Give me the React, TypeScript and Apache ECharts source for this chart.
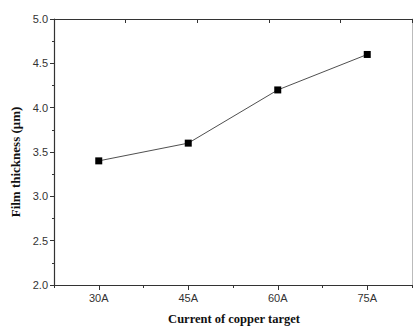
import React, { useEffect, useRef } from "react";
import * as echarts from "echarts";

const categories = ["30A", "45A", "60A", "75A"];
const thickness = [3.4, 3.6, 4.2, 4.6];
const yMin = 2.0;
const yMax = 5.0;
const yInterval = 0.5;
const xTitle = "Current of copper target";
const yTitle = "Film thickness (μm)";

export default function App() {
  const ref = useRef<HTMLDivElement>(null);
  useEffect(() => {
    if (!ref.current) return;
    const chart = echarts.init(ref.current, undefined, { renderer: "svg" });
    const tickLabel = { fontFamily: "Liberation Sans, Arial, sans-serif", fontSize: 11, color: "#333" };
    const serif = "Liberation Serif, Times New Roman, serif";
    chart.setOption({
      animation: false,
      backgroundColor: "#fff",
      grid: { left: 54, right: 1, top: 19, bottom: 42, outerBoundsMode: "none", containLabel: false },
      graphic: [
        {
          type: "text",
          x: 15,
          y: 162,
          rotation: Math.PI / 2,
          style: {
            text: yTitle,
            fontFamily: serif,
            fontSize: 13,
            fontWeight: "bold",
            fill: "#111",
            align: "center",
            verticalAlign: "middle",
          },
        },
        {
          type: "text",
          x: 234,
          y: 319,
          style: {
            text: xTitle,
            fontFamily: serif,
            fontSize: 12.5,
            fontWeight: "bold",
            fill: "#111",
            align: "center",
            verticalAlign: "middle",
          },
        },
      ],
      xAxis: [
        {
          type: "category",
          data: categories,
          position: "bottom",
          boundaryGap: true,
          axisLine: { show: true, lineStyle: { color: "#333", width: 1.2 } },
          axisTick: { show: true, alignWithLabel: true, length: 5, lineStyle: { color: "#333" } },
          axisLabel: { ...tickLabel, margin: 7 },
          splitLine: { show: false },
        },
        {
          type: "category",
          data: categories,
          position: "bottom",
          boundaryGap: true,
          axisLine: { show: false },
          axisTick: { show: true, alignWithLabel: false, length: 3, lineStyle: { color: "#333" } },
          axisLabel: { show: false },
          splitLine: { show: false },
        },
        {
          type: "value",
          position: "top",
          min: 0,
          max: 5,
          interval: 1,
          axisLine: { show: true, lineStyle: { color: "#333", width: 1.2 } },
          axisTick: { show: true, inside: true, length: 4, lineStyle: { color: "#333" } },
          axisLabel: { show: false },
          splitLine: { show: false },
        },
      ],
      yAxis: [
        {
          type: "value",
          min: yMin,
          max: yMax,
          interval: yInterval,
          position: "left",
          axisLine: { show: true, lineStyle: { color: "#333", width: 1.2 } },
          axisTick: { show: true, length: 4, lineStyle: { color: "#333" } },
          minorTick: { show: true, splitNumber: 2, length: 2, lineStyle: { color: "#333" } },
          axisLabel: { ...tickLabel, margin: 6, formatter: (v: number) => v.toFixed(1) },
          splitLine: { show: false },
        },
        {
          type: "value",
          min: yMin,
          max: yMax,
          interval: yInterval,
          position: "right",
          axisLine: { show: true, lineStyle: { color: "#bbb", width: 1 } },
          axisTick: { show: false },
          axisLabel: { show: false },
          splitLine: { show: false },
        },
      ],
      series: [
        {
          type: "line",
          xAxisIndex: 0,
          yAxisIndex: 0,
          data: thickness,
          symbol: "rect",
          symbolSize: 7,
          itemStyle: { color: "#000" },
          lineStyle: { color: "#222", width: 0.8 },
        },
      ],
    });
    return () => chart.dispose();
  }, []);
  return (
    <div
      ref={ref}
      style={{ position: "fixed", left: 0, top: 0, width: 413, height: 327 }}
    />
  );
}
